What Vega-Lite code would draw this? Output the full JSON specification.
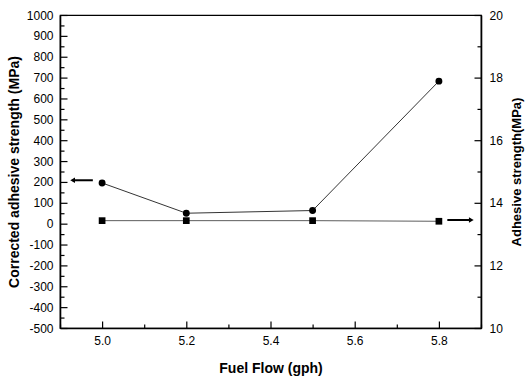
{
  "$schema": "https://vega.github.io/schema/vega-lite/v6.json",
  "width": 421,
  "height": 313,
  "autosize": "none",
  "padding": {"left": 60, "top": 15, "right": 46, "bottom": 52},
  "background": "white",
  "config": {
    "view": {"stroke": "black", "strokeWidth": 1.2},
    "axis": {
      "labelFont": "Liberation Sans",
      "labelFontSize": 12,
      "labelColor": "black",
      "titleFont": "Liberation Sans",
      "titleFontWeight": "bold",
      "titleColor": "black",
      "domainColor": "black",
      "domainWidth": 1.6,
      "ticks": true,
      "tickColor": "#000000",
      "tickOpacity": 1,
      "tickWidth": 1.2,
      "tickRound": false,
      "grid": false,
      "zindex": 1
    }
  },
  "datasets": {
    "corrected": [
      {"fuel": 5.0, "strength": 195},
      {"fuel": 5.2, "strength": 50},
      {"fuel": 5.5, "strength": 63},
      {"fuel": 5.8, "strength": 683}
    ],
    "adhesive": [
      {"fuel": 5.0, "strength": 13.43},
      {"fuel": 5.2, "strength": 13.43},
      {"fuel": 5.5, "strength": 13.43},
      {"fuel": 5.8, "strength": 13.41}
    ],
    "leftArrow": [{"from": 4.978, "to": 4.93, "level": 208}],
    "rightArrow": [{"from": 5.82, "to": 5.877, "level": 13.45}]
  },
  "encoding": {
    "x": {
      "field": "fuel",
      "type": "quantitative",
      "scale": {"domain": [4.9, 5.9], "nice": false, "zero": false},
      "axis": {
        "title": "Fuel Flow (gph)",
        "titleFontSize": 14,
        "titlePadding": 15,
        "values": [4.9, 5.0, 5.1, 5.2, 5.3, 5.4, 5.5, 5.6, 5.7, 5.8, 5.9],
        "format": ".1f",
        "labelExpr": "round(datum.value * 10) % 2 === 0 ? datum.label : ''",
        "tickSize": {"condition": {"test": "round(datum.value * 10) % 2 === 0", "value": -7}, "value": -4},
        "labelPadding": 14,
        "encode": {"ticks": {"update": {"stroke": {"value": "#000000"}, "strokeOpacity": {"value": 1}, "strokeWidth": {"value": 1.2}}}}
      }
    }
  },
  "layer": [
    {
      "encoding": {
        "y": {
          "field": "strength",
          "type": "quantitative",
          "scale": {"domain": [-500, 1000], "nice": false, "zero": false},
          "axis": {
            "orient": "left",
            "title": "Corrected adhesive strength (MPa)",
            "titleFontSize": 14,
            "titlePadding": 5,
            "values": [-500, -450, -400, -350, -300, -250, -200, -150, -100, -50, 0, 50, 100, 150, 200, 250, 300, 350, 400, 450, 500, 550, 600, 650, 700, 750, 800, 850, 900, 950, 1000],
            "labelExpr": "datum.value % 100 === 0 ? '' + datum.value : ''",
            "tickSize": {"condition": {"test": "datum.value % 100 === 0", "value": -7}, "value": -4},
            "labelPadding": 14,
            "encode": {"ticks": {"update": {"stroke": {"value": "#000000"}, "strokeOpacity": {"value": 1}, "strokeWidth": {"value": 1.2}}}}
          }
        }
      },
      "layer": [
        {
          "data": {"name": "corrected"},
          "mark": {"type": "line", "color": "black", "strokeWidth": 0.8}
        },
        {
          "data": {"name": "corrected"},
          "mark": {"type": "point", "shape": "circle", "filled": true, "color": "black", "size": 48, "opacity": 1}
        },
        {
          "data": {"name": "leftArrow"},
          "mark": {"type": "rule", "color": "black", "strokeWidth": 2},
          "encoding": {
            "x": {"field": "from", "type": "quantitative"},
            "x2": {"field": "to"},
            "y": {"field": "level", "type": "quantitative"}
          }
        },
        {
          "data": {"name": "leftArrow"},
          "mark": {"type": "point", "shape": "triangle-left", "filled": true, "color": "black", "size": 30, "opacity": 1},
          "encoding": {
            "x": {"field": "to", "type": "quantitative"},
            "y": {"field": "level", "type": "quantitative"}
          }
        }
      ]
    },
    {
      "encoding": {
        "y": {
          "field": "strength",
          "type": "quantitative",
          "scale": {"domain": [10, 20], "nice": false, "zero": false},
          "axis": {
            "orient": "right",
            "title": "Adhesive strength(MPa)",
            "titleFontSize": 13,
            "titleAngle": 270,
            "titleBaseline": "bottom",
            "titlePadding": 21,
            "values": [10, 11, 12, 13, 14, 15, 16, 17, 18, 19, 20],
            "labelExpr": "datum.value % 2 === 0 ? datum.label : ''",
            "tickSize": {"condition": {"test": "datum.value % 2 === 0", "value": -7}, "value": -4},
            "labelPadding": 15,
            "encode": {"ticks": {"update": {"stroke": {"value": "#000000"}, "strokeOpacity": {"value": 1}, "strokeWidth": {"value": 1.2}}}}
          }
        }
      },
      "layer": [
        {
          "data": {"name": "adhesive"},
          "mark": {"type": "line", "color": "#333333", "strokeWidth": 0.8}
        },
        {
          "data": {"name": "adhesive"},
          "mark": {"type": "point", "shape": "square", "filled": true, "color": "black", "size": 45, "opacity": 1}
        },
        {
          "data": {"name": "rightArrow"},
          "mark": {"type": "rule", "color": "black", "strokeWidth": 2},
          "encoding": {
            "x": {"field": "from", "type": "quantitative"},
            "x2": {"field": "to"},
            "y": {"field": "level", "type": "quantitative"}
          }
        },
        {
          "data": {"name": "rightArrow"},
          "mark": {"type": "point", "shape": "triangle-right", "filled": true, "color": "black", "size": 30, "opacity": 1},
          "encoding": {
            "x": {"field": "to", "type": "quantitative"},
            "y": {"field": "level", "type": "quantitative"}
          }
        }
      ]
    }
  ],
  "resolve": {"scale": {"y": "independent"}}
}
